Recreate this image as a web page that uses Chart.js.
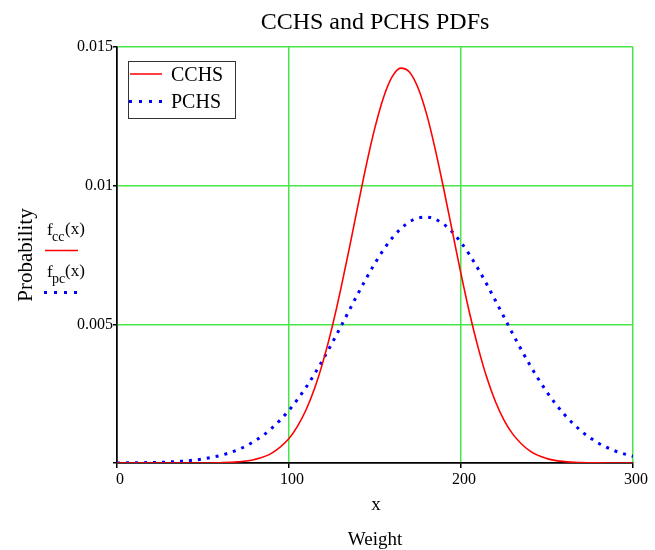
<!DOCTYPE html>
<html>
<head>
<meta charset="utf-8">
<script src="https://cdn.jsdelivr.net/npm/chart.js@4.4.0/dist/chart.umd.min.js"></script>
<style>
  body { margin: 0; background: #fff; }
  #wrap { width: 655px; height: 550px; }
</style>
</head>
<body>
<div id="wrap"><canvas id="pdf_chart" width="655" height="550"></canvas></div>
<script>
// values
const weightCC = [0, 10, 20, 30, 40, 50, 60, 70, 80, 90, 100, 105, 110, 115, 120, 125, 130, 135, 140, 145,
    150, 155, 160, 165, 170, 175, 180, 185, 190, 195, 200, 205, 210, 215, 220, 225, 230, 240, 250, 260,
    270, 280, 290, 300];
const cchs = [0, 0, 0, 0, 0, 0.000001, 0.000011, 0.00004, 0.000127, 0.000358, 0.000886, 0.00133, 0.00193,
    0.00271, 0.0037, 0.00488, 0.00624, 0.00772, 0.00926, 0.01076, 0.0121, 0.01319, 0.01393, 0.01424,
    0.0141, 0.01353, 0.01258, 0.01132, 0.00987, 0.00834, 0.00682, 0.0054, 0.00415, 0.00308, 0.00222,
    0.00155, 0.00105, 0.000434, 0.000158, 0.000051, 0.000014, 0.000004, 0.000001, 0];

const weightPC = [0, 10, 20, 30, 40, 50, 60, 70, 80, 90, 100, 110, 120, 130, 140, 150, 160, 170, 180, 190,
    200, 210, 220, 230, 240, 250, 260, 270, 280, 290, 300];
const pchs = [0.000003, 0.000008, 0.000017, 0.000037, 0.000075, 0.000146, 0.000269, 0.000472, 0.000789,
    0.001254, 0.0019, 0.002737, 0.003755, 0.004903, 0.006093, 0.007206, 0.008113, 0.008694, 0.008868,
    0.008609, 0.007955, 0.006997, 0.005857, 0.004667, 0.003539, 0.002555, 0.001755, 0.001148, 0.000715,
    0.000424, 0.000239];

const xTicks = [0, 100, 200, 300];
const yTicks = [0, 0.005, 0.01, 0.015];

const seriesNames = ['CCHS', 'PCHS'];
const chartTitle = 'CCHS and PCHS PDFs';

const serif = '"Liberation Serif", "Times New Roman", serif';
const green = 'rgb(72, 230, 72)';

// extra text: title, axis labels, legend box
const extras = {
    id: 'extras',
    afterDraw(chart) {
        const c = chart.ctx;
        const a = chart.chartArea;
        const mid = (a.left + a.right) / 2;
        c.save();
        c.fillStyle = '#000';
        c.textAlign = 'center';
        c.textBaseline = 'alphabetic';
        c.font = '24px ' + serif;
        c.fillText(chartTitle, mid, 29);
        c.font = '19px ' + serif;
        c.fillText('x', mid + 1, 510);
        c.fillText('Weight', mid, 545);

        // y label
        c.save();
        c.translate(32, 255);
        c.rotate(-Math.PI / 2);
        c.font = '21px ' + serif;
        c.fillText('Probability', 0, 0);
        c.restore();

        // f_cc(x) / f_pc(x)
        c.textAlign = 'left';
        c.font = '17px ' + serif;
        c.fillText('f', 47, 235);
        c.font = '14px ' + serif;
        c.fillText('cc', 52, 241);
        c.font = '17px ' + serif;
        c.fillText('(x)', 65, 234);
        c.strokeStyle = '#ff0000';
        c.lineWidth = 1.5;
        c.beginPath();
        c.moveTo(45, 250.5);
        c.lineTo(78, 250.5);
        c.stroke();
        c.font = '17px ' + serif;
        c.fillText('f', 47, 277);
        c.font = '14px ' + serif;
        c.fillText('pc', 52, 283);
        c.font = '17px ' + serif;
        c.fillText('(x)', 65, 276);
        c.fillStyle = '#0000ff';
        for (let i = 0; i < 4; i++) c.fillRect(44 + i * 10, 291, 3, 3);

        // legend box
        c.fillStyle = '#fff';
        c.fillRect(128, 61, 107, 57);
        c.strokeStyle = '#333';
        c.lineWidth = 1;
        c.strokeRect(128.5, 61.5, 107, 57);
        c.strokeStyle = '#ff0000';
        c.lineWidth = 1.5;
        c.beginPath();
        c.moveTo(130, 74);
        c.lineTo(162, 74);
        c.stroke();
        c.fillStyle = '#0000ff';
        for (let i = 0; i < 4; i++) c.fillRect(129 + i * 10, 100, 3, 3);
        c.fillStyle = '#000';
        c.font = '20px ' + serif;
        c.fillText(seriesNames[0], 171, 81);
        c.fillText(seriesNames[1], 171, 108);
        c.restore();
    }
};

const ctx = document.getElementById('pdf_chart').getContext('2d');
const myChart = new Chart(ctx, {
    type: 'line',
    data: {
        datasets: [{
            label: seriesNames[0],
            data: weightCC.map((w, i) => ({ x: w, y: cchs[i] })),
            borderColor: '#ff0000',
            borderWidth: 1.6,
            pointRadius: 0,
            cubicInterpolationMode: 'monotone',
            fill: false
        }, {
            label: seriesNames[1],
            data: weightPC.map((w, i) => ({ x: w, y: pchs[i] })),
            borderColor: '#0000ff',
            borderWidth: 3,
            borderDash: [3, 6],
            pointRadius: 0,
            cubicInterpolationMode: 'monotone',
            fill: false
        }]
    },
    options: {
        responsive: false,
        animation: false,
        layout: { padding: { top: 47, right: 22, left: 0, bottom: 0 } },
        plugins: {
            legend: { display: false },
            tooltip: { enabled: false }
        },
        scales: {
            x: {
                type: 'linear',
                min: 0,
                max: 300,
                afterBuildTicks: s => { s.ticks = xTicks.map(v => ({ value: v })); },
                afterFit: s => { s.height = 87; },
                ticks: {
                    color: '#000',
                    font: { family: serif, size: 16 },
                    padding: 2,
                    labelOffset: 3,
                    maxRotation: 0
                },
                grid: {
                    color: c => c.tick && c.tick.value === 0 ? '#000' : green,
                    lineWidth: 1.5,
                    tickColor: '#000',
                    tickLength: 5
                },
                border: { color: '#000', width: 1.5 }
            },
            y: {
                min: 0,
                max: 0.015,
                afterBuildTicks: s => { s.ticks = yTicks.map(v => ({ value: v })); },
                afterFit: s => { s.width = 117; },
                ticks: {
                    color: '#000',
                    font: { family: serif, size: 16 },
                    padding: 0,
                    callback: v => v === 0 ? '' : String(+v.toFixed(3))
                },
                grid: {
                    color: c => c.tick && c.tick.value === 0 ? '#000' : green,
                    lineWidth: 1.5,
                    tickColor: '#000',
                    tickLength: 4
                },
                border: { color: '#000', width: 1.5 }
            }
        }
    },
    plugins: [extras]
});
</script>
</body>
</html>
